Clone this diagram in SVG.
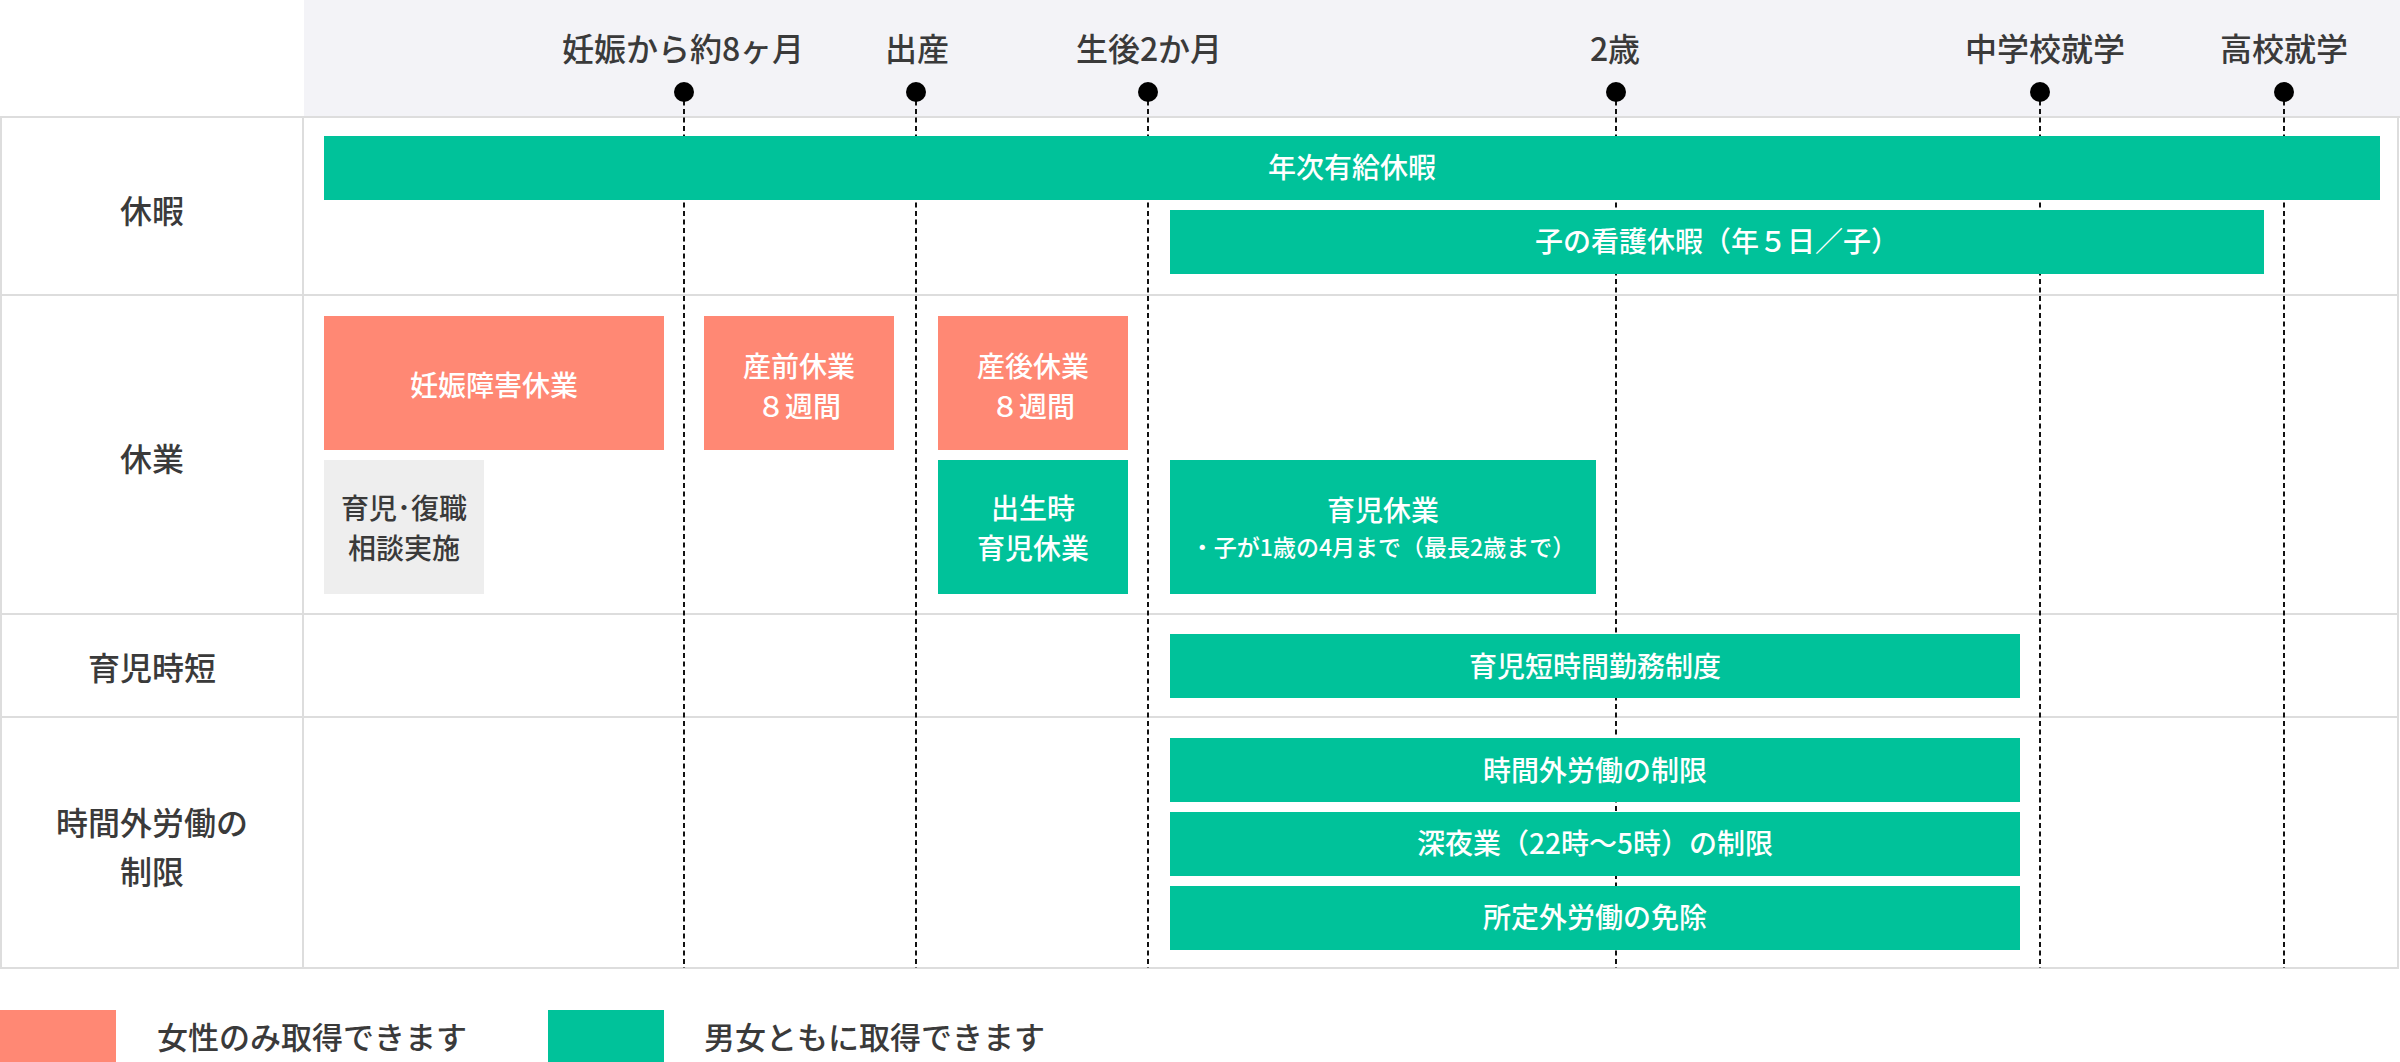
<svg xmlns="http://www.w3.org/2000/svg" width="2400" height="1062" viewBox="0 0 2400 1062">
<style>
.t{font-family:"Noto Sans CJK JP","Noto Sans CJK SC",sans-serif;text-anchor:middle}
.hdr{font-size:32px;fill:#3a3a3a;font-weight:500}
.lbl{font-size:32px;fill:#3a3a3a;font-weight:500}
.bt{font-size:28px;fill:#ffffff;font-weight:500}
.gt{font-size:28px;fill:#3a3a3a;font-weight:500}
.st{font-size:23px;fill:#ffffff;font-weight:500}
.lg{font-size:31px;fill:#3a3a3a;font-weight:500;text-anchor:start}
.g{fill:#00c29a}
.p{fill:#ff8874}
.gray{fill:#eeeeee}
.grid{stroke:#dddddd;stroke-width:2;fill:none}
.dash{stroke:#111111;stroke-width:2;stroke-dasharray:5 3.5;fill:none}
.dot{fill:#000000}
</style>
<rect x="0" y="0" width="2400" height="1062" fill="#ffffff"/>
<rect x="304" y="0" width="2096" height="117" fill="#f3f3f7"/>
<g id="grid">
<line class="grid" x1="0" y1="117" x2="2400" y2="117"/>
<line class="grid" x1="0" y1="295" x2="2398" y2="295"/>
<line class="grid" x1="0" y1="614" x2="2398" y2="614"/>
<line class="grid" x1="0" y1="717" x2="2398" y2="717"/>
<line class="grid" x1="0" y1="968" x2="2398" y2="968"/>
<line class="grid" x1="1" y1="117" x2="1" y2="969"/>
<line class="grid" x1="303" y1="117" x2="303" y2="969"/>
<line class="grid" x1="2398" y1="117" x2="2398" y2="969"/>
</g>
<g id="connectors">
<line class="dash" x1="684" y1="92" x2="684" y2="968"/>
<line class="dash" x1="916" y1="92" x2="916" y2="968"/>
<line class="dash" x1="1148" y1="92" x2="1148" y2="968"/>
<line class="dash" x1="1616" y1="92" x2="1616" y2="968"/>
<line class="dash" x1="2040" y1="92" x2="2040" y2="968"/>
<line class="dash" x1="2284" y1="92" x2="2284" y2="968"/>
<circle class="dot" cx="684" cy="92" r="10"/>
<circle class="dot" cx="916" cy="92" r="10"/>
<circle class="dot" cx="1148" cy="92" r="10"/>
<circle class="dot" cx="1616" cy="92" r="10"/>
<circle class="dot" cx="2040" cy="92" r="10"/>
<circle class="dot" cx="2284" cy="92" r="10"/>
</g>
<g id="milestones">
<text class="t hdr" x="683" y="61">妊娠から約8ヶ月</text>
<text class="t hdr" x="917" y="61">出産</text>
<text class="t hdr" x="1149" y="61">生後2か月</text>
<text class="t hdr" x="1615" y="61">2歳</text>
<text class="t hdr" x="2045" y="61">中学校就学</text>
<text class="t hdr" x="2284" y="61">高校就学</text>
</g>
<g id="row-labels">
<text class="t lbl" x="152" y="223">休暇</text>
<text class="t lbl" x="152" y="471">休業</text>
<text class="t lbl" x="152" y="680">育児時短</text>
<text class="t lbl" x="152" y="835">時間外労働の</text>
<text class="t lbl" x="152" y="884">制限</text>
</g>
<g id="annual-leave">
<rect class="g" x="324" y="136" width="2056" height="64"/>
<text class="t bt" x="1352" y="178">年次有給休暇</text>
</g>
<g id="child-care-leave">
<rect class="g" x="1170" y="210" width="1094" height="64"/>
<text class="t bt" x="1717" y="252">子の看護休暇（年５日／子）</text>
</g>
<g id="pregnancy-leave">
<rect class="p" x="324" y="316" width="340" height="134"/>
<text class="t bt" x="494" y="396">妊娠障害休業</text>
</g>
<g id="prenatal-leave">
<rect class="p" x="704" y="316" width="190" height="134"/>
<text class="t bt" x="799" y="377">産前休業</text>
<text class="t bt" x="799" y="417">８週間</text>
</g>
<g id="postnatal-leave">
<rect class="p" x="938" y="316" width="190" height="134"/>
<text class="t bt" x="1033" y="377">産後休業</text>
<text class="t bt" x="1033" y="417">８週間</text>
</g>
<g id="consultation">
<rect class="gray" x="324" y="460" width="160" height="134"/>
<text class="t gt" x="404" y="519">育児･復職</text>
<text class="t gt" x="404" y="559">相談実施</text>
</g>
<g id="birth-childcare-leave">
<rect class="g" x="938" y="460" width="190" height="134"/>
<text class="t bt" x="1033" y="519">出生時</text>
<text class="t bt" x="1033" y="559">育児休業</text>
</g>
<g id="childcare-leave">
<rect class="g" x="1170" y="460" width="426" height="134"/>
<text class="t bt" x="1383" y="521">育児休業</text>
<text class="t st" x="1383" y="556">・子が1歳の4月まで（最長2歳まで）</text>
</g>
<g id="short-hours">
<rect class="g" x="1170" y="634" width="850" height="64"/>
<text class="t bt" x="1595" y="677">育児短時間勤務制度</text>
</g>
<g id="overtime-limit">
<rect class="g" x="1170" y="738" width="850" height="64"/>
<text class="t bt" x="1595" y="781">時間外労働の制限</text>
</g>
<g id="night-limit">
<rect class="g" x="1170" y="812" width="850" height="64"/>
<text class="t bt" x="1595" y="854">深夜業（22時〜5時）の制限</text>
</g>
<g id="overtime-exempt">
<rect class="g" x="1170" y="886" width="850" height="64"/>
<text class="t bt" x="1595" y="928">所定外労働の免除</text>
</g>
<g id="legend">
<rect class="p" x="0" y="1010" width="116" height="52"/>
<text class="t lg" x="157" y="1049">女性のみ取得できます</text>
<rect class="g" x="548" y="1010" width="116" height="52"/>
<text class="t lg" x="704" y="1049">男女ともに取得できます</text>
</g>
</svg>
